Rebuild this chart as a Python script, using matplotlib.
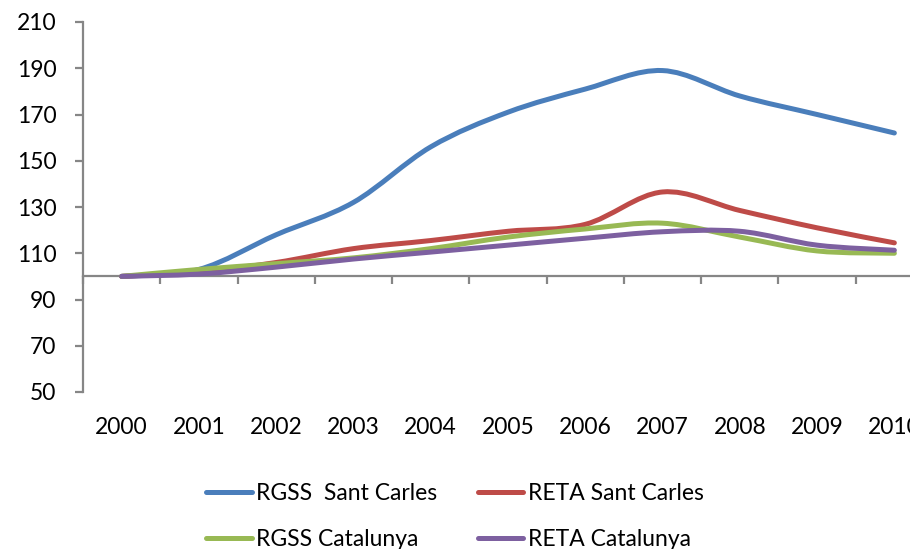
import numpy as np
import matplotlib
matplotlib.use("Agg")
import matplotlib.pyplot as plt
from matplotlib.path import Path
from matplotlib.patches import PathPatch
from matplotlib.lines import Line2D

years = ["2000", "2001", "2002", "2003", "2004", "2005", "2006", "2007", "2008", "2009", "2010"]
rgss_sant_carles = [100, 103, 118, 132, 156, 171, 181, 189, 178, 170, 162]
reta_sant_carles = [100, 102, 106, 112, 115.5, 119.5, 122.5, 136.5, 128.5, 121, 114.5]
rgss_catalunya = [100, 103, 105.5, 108, 112, 117, 120.5, 123, 117, 111, 110]
reta_catalunya = [100, 101, 104, 107.5, 110.5, 113.5, 116.5, 119.3, 119.5, 113.5, 111.3]

series = [
    ("RGSS  Sant Carles", rgss_sant_carles, "#4A7EBB"),
    ("RETA Sant Carles", reta_sant_carles, "#BE4B48"),
    ("RGSS Catalunya", rgss_catalunya, "#98B954"),
    ("RETA Catalunya", reta_catalunya, "#7D60A0"),
]

plt.rcParams['font.family'] = ['Lato', 'DejaVu Sans']
FS = 16.5
AX = "#868686"
LW = 3.6

fig = plt.figure(figsize=(9.10, 5.49), dpi=100)
ax = fig.add_axes([83/910, (549-392)/549, 850/910, 370/549])


def smooth_path(xs, ys):
    pts = np.column_stack([xs, ys]).astype(float)
    n = len(pts)
    verts = [pts[0]]
    codes = [Path.MOVETO]
    for i in range(n - 1):
        p0 = pts[max(i - 1, 0)]
        p1 = pts[i]
        p2 = pts[i + 1]
        p3 = pts[min(i + 2, n - 1)]
        c1 = p1 + (p2 - p0) / 6.0
        c2 = p2 - (p3 - p1) / 6.0
        verts += [c1, c2, p2]
        codes += [Path.CURVE4] * 3
    return Path(verts, codes)


x = np.arange(len(years))
handles = []
for name, vals, col in series:
    patch = PathPatch(smooth_path(x, vals), facecolor="none", edgecolor=col,
                      lw=LW, capstyle="round", joinstyle="round", zorder=3)
    ax.add_patch(patch)
    handles.append(Line2D([], [], color=col, lw=LW, solid_capstyle="round", label=name))

ax.set_xlim(-0.5, len(years) - 0.5)
ax.set_ylim(50, 210)
ax.set_yticks(np.arange(50, 211, 20))

for s in ["top", "right"]:
    ax.spines[s].set_visible(False)
ax.spines["left"].set_color(AX)
ax.spines["left"].set_linewidth(1.6)
ax.spines["bottom"].set_position(("data", 100))
ax.spines["bottom"].set_color(AX)
ax.spines["bottom"].set_linewidth(1.6)

ax.tick_params(axis="y", direction="out", length=6, width=1.6, color=AX,
               labelsize=FS, pad=13, labelcolor="black")
ax.set_xticks(x)
ax.set_xticklabels(years)
ax.set_xticks(np.arange(-0.5, len(years), 1.0), minor=True)
ax.tick_params(axis="x", which="major", length=0, labelsize=FS, pad=101)
ax.tick_params(axis="x", which="minor", direction="out", length=6, width=1.6, color=AX)

# legend filled row by row: (blue, red) then (green, purple)
leg_order = [handles[0], handles[2], handles[1], handles[3]]
fig.legend(handles=leg_order, loc="upper left", bbox_to_anchor=(206/910, 1 - 483/549),
           ncol=2, frameon=False, fontsize=FS, handlelength=2.0, handletextpad=0.2,
           columnspacing=1.75, labelspacing=1.08, borderpad=0, borderaxespad=0)

fig.savefig("out.png", dpi=100)
